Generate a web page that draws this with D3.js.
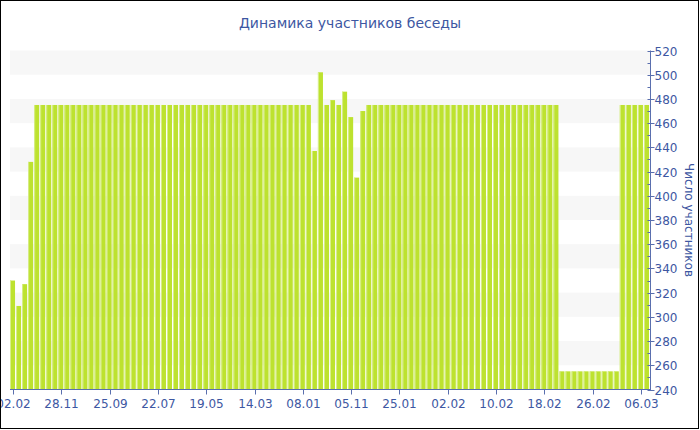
<!DOCTYPE html>
<html>
<head>
<meta charset="utf-8">
<script src="https://cdn.jsdelivr.net/npm/d3@7"></script>
<style>
  body { margin: 0; background: #fff; }
  svg { display: block; font-family: "DejaVu Sans", Verdana, sans-serif; }
  .tick-label { fill: #3d57a2; font-size: 12px; }
</style>
</head>
<body>
<div id="chart"></div>
<script>
// bars, one per day (older ones are sparse snapshots)
var members = [
  330, 309, 327, 428, 475, 475, 475, 475, 475, 475,
  475, 475, 475, 475, 475, 475, 475, 475, 475, 475,
  475, 475, 475, 475, 475, 475, 475, 475, 475, 475,
  475, 475, 475, 475, 475, 475, 475, 475, 475, 475,
  475, 475, 475, 475, 475, 475, 475, 475, 475, 475,
  437, 502, 475, 479, 475, 486, 465, 415, 470, 475,
  475, 475, 475, 475, 475, 475, 475, 475, 475, 475,
  475, 475, 475, 475, 475, 475, 475, 475, 475, 475,
  475, 475, 475, 475, 475, 475, 475, 475, 475, 475,
  475, 255, 255, 255, 255, 255, 255, 255, 255, 255,
  255, 475, 475, 475, 475, 475
];
// x labels shown on every 8th bar
var xLabels = ["02.02", "28.11", "25.09", "22.07", "19.05", "14.03", "08.01",
               "05.11", "25.01", "02.02", "10.02", "18.02", "26.02", "06.03"];
var labelStep = 8;
var yTicks = [240, 260, 280, 300, 320, 340, 360, 380, 400, 420, 440, 460, 480, 500, 520];

var width = 700, height = 430;
var plotLeft = 10, plotRight = 650, plotTop = 50.5, plotBottom = 389.5;
var textColor = "#3d57a2", axisColor = "#5a6fae";

var svg = d3.select("#chart").append("svg")
    .attr("width", width)
    .attr("height", height);

var x = d3.scaleBand()
    .domain(d3.range(members.length))
    .range([plotLeft, plotRight])
    .padding(0);

var y = d3.scaleLinear()
    .domain([240, 520])
    .range([plotBottom, plotTop]);

// alternating grey bands
var bands = yTicks.filter(function(d, i) { return i % 2 == 1; });
svg.append("g").selectAll("rect")
    .data(bands)
    .enter().append("rect")
    .attr("x", plotLeft)
    .attr("width", plotRight - plotLeft)
    .attr("y", function(d) { return y(d + 20); })
    .attr("height", function(d) { return y(d) - y(d + 20); })
    .attr("fill", "#f7f7f7");

// bars
var bw = x.bandwidth();
var bars = svg.append("g").selectAll("g")
    .data(members)
    .enter().append("g");

bars.append("rect")
    .attr("x", function(d, i) { return x(i); })
    .attr("y", function(d) { return y(d); })
    .attr("width", bw - 1)
    .attr("height", function(d) { return plotBottom - y(d); })
    .attr("fill", "#bde22f");

bars.append("rect")
    .attr("x", function(d, i) { return x(i); })
    .attr("y", function(d) { return y(d); })
    .attr("width", 1)
    .attr("height", function(d) { return plotBottom - y(d); })
    .attr("fill", "#d8ee8c");

// bottom axis
var xAxis = svg.append("g")
    .attr("transform", "translate(0," + plotBottom + ")");

xAxis.append("line")
    .attr("x1", plotLeft).attr("x2", plotRight + 1)
    .attr("stroke", axisColor);

var labelIdx = xLabels.map(function(d, i) { return i * labelStep; });
var xt = xAxis.selectAll(".xt")
    .data(labelIdx)
    .enter().append("g")
    .attr("class", "xt")
    .attr("transform", function(d) { return "translate(" + (Math.round(x(d) + bw / 2) + 0.5) + ",0)"; });

xt.append("line")
    .attr("y1", 0).attr("y2", 5)
    .attr("stroke", axisColor);

xt.append("text")
    .attr("class", "tick-label")
    .attr("y", 18)
    .style("text-anchor", "middle")
    .text(function(d, i) { return xLabels[i]; });

// right axis
var yAxis = svg.append("g")
    .attr("transform", "translate(" + (plotRight + 0.5) + ",0)");

yAxis.append("line")
    .attr("y1", plotTop).attr("y2", plotBottom)
    .attr("stroke", axisColor);

var minor = yTicks.slice(1).map(function(d) { return d - 10; });
yAxis.selectAll(".minor")
    .data(minor)
    .enter().append("line")
    .attr("x1", -3).attr("x2", 0)
    .attr("y1", function(d) { return Math.round(y(d)) + 0.5; })
    .attr("y2", function(d) { return Math.round(y(d)) + 0.5; })
    .attr("stroke", axisColor);

var yt = yAxis.selectAll(".yt")
    .data(yTicks)
    .enter().append("g")
    .attr("class", "yt")
    .attr("transform", function(d) { return "translate(0," + (Math.round(y(d)) + 0.5) + ")"; });

yt.append("line")
    .attr("x1", -3).attr("x2", 4)
    .attr("stroke", axisColor);

yt.append("text")
    .attr("class", "tick-label")
    .attr("x", 4)
    .attr("dy", "0.35em")
    .text(function(d) { return d; });

// axis title
svg.append("text")
    .attr("transform", "translate(685," + ((plotTop + plotBottom) / 2) + ") rotate(90)")
    .style("text-anchor", "middle")
    .style("font-size", "12px")
    .style("fill", textColor)
    .text("Число участников");

// title
svg.append("text")
    .attr("x", 350)
    .attr("y", 28)
    .style("text-anchor", "middle")
    .style("font-size", "14px")
    .style("fill", textColor)
    .text("Динамика участников беседы");

// frame
svg.append("rect")
    .attr("x", 0.5).attr("y", 0.5)
    .attr("width", 698).attr("height", 428)
    .attr("fill", "none")
    .attr("stroke", "#000");
</script>
</body>
</html>
